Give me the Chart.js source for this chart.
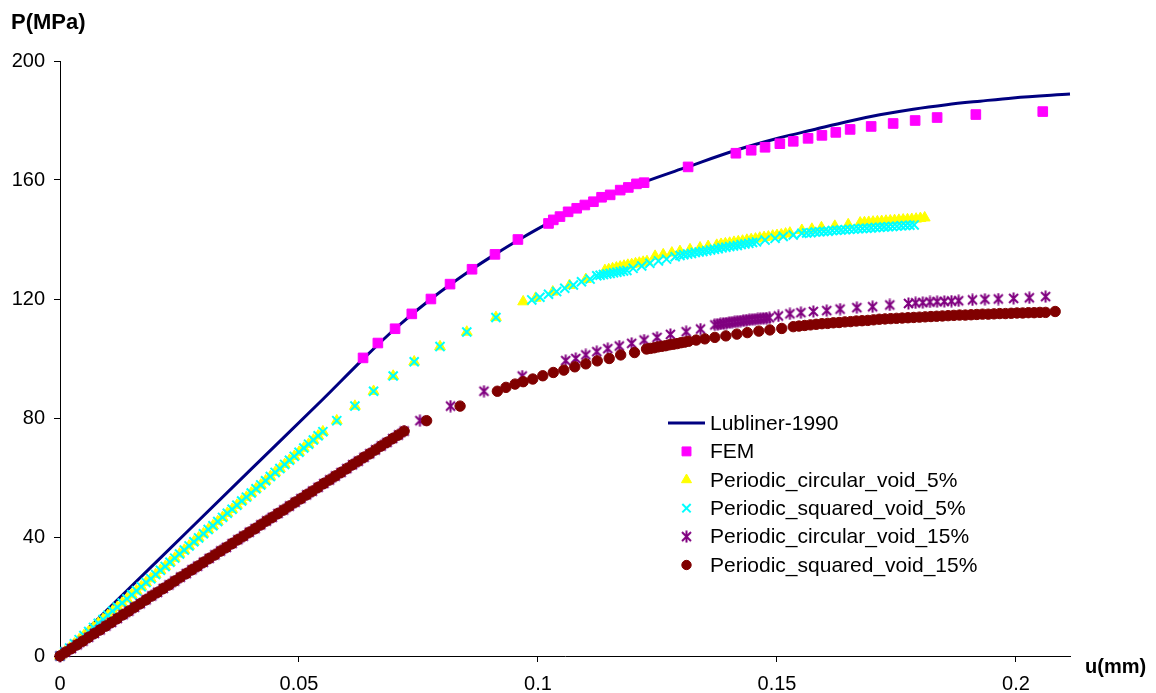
<!DOCTYPE html>
<html>
<head>
<meta charset="utf-8">
<script src="https://cdn.jsdelivr.net/npm/chart.js@4.4.1/dist/chart.umd.min.js"></script>
<style>
  body { margin: 0; background: #fff; }
  #chart { display: block; }
</style>
</head>
<body>
<canvas id="chart" width="1156" height="693"></canvas>
<script>
// ---------------- data ----------------
var seriesNames = ['Lubliner-1990', 'FEM', 'Periodic_circular_void_5%', 'Periodic_squared_void_5%',
                   'Periodic_circular_void_15%', 'Periodic_squared_void_15%'];
var xTicks = [0, 0.05, 0.1, 0.15, 0.2];
var yTicks = [0, 40, 80, 120, 160, 200];

// Lubliner-1990 (line)
var lubU = [0, 0.02, 0.04, 0.055, 0.0634, 0.0701, 0.0776, 0.0862, 0.091, 0.0961, 0.1021, 0.1122, 0.1227, 0.1311,
            0.1414, 0.1506, 0.1576, 0.1646, 0.1715, 0.1785, 0.1855, 0.1925, 0.1994, 0.2113];
var lubP = [0, 31.4, 62.8, 86.3, 99.8, 110, 120, 130, 135, 140, 145.4, 153, 159.6, 164.3,
            170, 174.2, 176.9, 179.6, 181.9, 183.8, 185.3, 186.5, 187.6, 188.9];

// FEM
var femU = [0.0634, 0.0665, 0.0701, 0.0736, 0.0776, 0.0816, 0.0862, 0.091, 0.0958,
            0.1022, 0.1032, 0.1046, 0.1063, 0.1081, 0.1098, 0.1116, 0.1133, 0.1151, 0.1172, 0.1189, 0.1206, 0.1222,
            0.1314, 0.1414, 0.1446, 0.1475, 0.1506, 0.1534, 0.1565, 0.1594, 0.1623, 0.1653, 0.1697, 0.1743,
            0.1789, 0.1835, 0.1916, 0.2056];
var femP = [100.2, 105.2, 110, 115, 120, 125, 130, 135, 140,
            145.4, 146.6, 147.7, 149.3, 150.5, 151.6, 152.7, 154.2, 155, 156.6, 157.5, 158.7, 159.1,
            164.4, 169, 170, 171, 172.2, 173, 174, 175, 176, 177, 178, 179,
            180, 181, 182, 183];

// 5% voids: common linear start (both markers sit on top of each other)
var lin5U = [0, 0.001, 0.002, 0.003, 0.004, 0.005, 0.006, 0.007, 0.008, 0.009, 0.010, 0.011, 0.012, 0.013,
             0.014, 0.015, 0.016, 0.017, 0.018, 0.019, 0.020, 0.021, 0.022, 0.023, 0.024, 0.025, 0.026, 0.027,
             0.028, 0.029, 0.030, 0.031, 0.032, 0.033, 0.034, 0.035, 0.036, 0.037, 0.038, 0.039, 0.040, 0.041,
             0.042, 0.043, 0.044, 0.045, 0.046, 0.047, 0.048, 0.049, 0.050, 0.051, 0.052, 0.053, 0.054, 0.055,
             0.0579, 0.0617, 0.0656, 0.0697, 0.0741, 0.0795, 0.0851, 0.0912];
var lin5P = [0, 1.4, 2.7, 4.1, 5.5, 6.9, 8.2, 9.6, 11, 12.3, 13.7, 15.1, 16.4, 17.8,
             19.2, 20.6, 21.9, 23.3, 24.7, 26, 27.4, 28.8, 30.1, 31.5, 32.9, 34.3, 35.6, 37,
             38.4, 39.7, 41.1, 42.5, 43.8, 45.2, 46.6, 48, 49.3, 50.7, 52.1, 53.4, 54.8, 56.2,
             57.5, 58.9, 60.3, 61.7, 63, 64.4, 65.8, 67.1, 68.5, 69.9, 71.2, 72.6, 74, 75.4,
             79.1, 84, 89, 94.1, 98.9, 104, 108.9, 113.8];

// Periodic_circular_void_5% (after the common start)
var circ5U = [0.0969, 0.0995, 0.1031, 0.1066, 0.11,
              0.114, 0.1148, 0.1156, 0.1164, 0.1172, 0.118, 0.1188, 0.1196, 0.1204, 0.1212, 0.122, 0.1228,
              0.1245, 0.1262, 0.128, 0.1297, 0.1318, 0.1339, 0.1356,
              0.1374, 0.1383, 0.1392, 0.1401, 0.141, 0.1419, 0.1428, 0.1437, 0.1446, 0.1455, 0.1464, 0.1473,
              0.1482, 0.1491, 0.15, 0.1509, 0.1518, 0.1527,
              0.1552, 0.1573, 0.1593, 0.1621, 0.1649,
              0.1674, 0.1683, 0.1692, 0.1701, 0.171, 0.1719, 0.1728, 0.1737, 0.1746, 0.1755, 0.1764, 0.1773,
              0.1782, 0.1791, 0.18, 0.1809];
var circ5P = [119.1, 120.3, 122.4, 124.6, 126.6,
              129.6, 129.9, 130.2, 130.5, 130.8, 131.1, 131.4, 131.6, 131.9, 132.1, 132.4, 132.6,
              134.4, 134.9, 135.5, 136, 136.6, 137.2, 137.7,
              138.1, 138.4, 138.6, 138.8, 139.1, 139.3, 139.5, 139.8, 140, 140.2, 140.5, 140.7,
              140.9, 141.2, 141.4, 141.6, 141.9, 142.2,
              143.1, 143.5, 144, 144.5, 145,
              145.6, 145.7, 145.8, 145.9, 146, 146.1, 146.2, 146.3, 146.4, 146.5, 146.6, 146.7,
              146.8, 146.9, 147.1, 147.3];

// Periodic_squared_void_5% (after the common start)
var sq5U = [0.0987, 0.1004, 0.1022, 0.1039, 0.1056, 0.1074, 0.1091, 0.1109,
            0.1123, 0.113, 0.1137, 0.1144, 0.1151, 0.1158, 0.1165, 0.1172, 0.1179, 0.1186,
            0.1199, 0.1217, 0.1234, 0.1252, 0.1269, 0.1287,
            0.1297, 0.1305, 0.1313, 0.1321, 0.1329, 0.1337, 0.1345, 0.1353, 0.1361, 0.1369, 0.1377, 0.1385,
            0.1393, 0.1401, 0.1409, 0.1417, 0.1425, 0.1433, 0.1441, 0.1449, 0.1457,
            0.1475, 0.1496, 0.1513, 0.1534, 0.1552,
            0.1562, 0.1571, 0.158, 0.1589, 0.1598, 0.1607, 0.1616, 0.1625, 0.1634, 0.1643, 0.1652, 0.1661,
            0.167, 0.1679, 0.1688, 0.1697, 0.1706, 0.1715, 0.1724, 0.1733, 0.1742, 0.1751, 0.176, 0.1769,
            0.1778, 0.1787];
var sq5P = [119.7, 120.6, 121.6, 122.5, 123.6, 124.7, 125.8, 126.7,
            127.8, 128, 128.2, 128.4, 128.6, 128.8, 129, 129.2, 129.4, 129.6,
            130.3, 131.1, 132, 132.8, 133.4, 134.2,
            134.6, 134.9, 135.1, 135.3, 135.6, 135.8, 136, 136.2, 136.5, 136.7, 136.9, 137.2,
            137.4, 137.6, 137.8, 138, 138.3, 138.5, 138.7, 139, 139.2,
            139.8, 140.4, 141, 141.5, 142.1,
            142.2, 142.3, 142.5, 142.6, 142.7, 142.8, 143, 143.1, 143.2, 143.3, 143.4, 143.5,
            143.6, 143.7, 143.8, 143.9, 144, 144.1, 144.2, 144.3, 144.4, 144.5, 144.6, 144.7,
            144.8, 144.9];

// 15% voids: common linear start
var lin15U = [0, 0.0012, 0.0024, 0.0036, 0.0048, 0.006, 0.0072, 0.0084, 0.0096, 0.0108, 0.012, 0.0132,
              0.0144, 0.0156, 0.0168, 0.018, 0.0192, 0.0204, 0.0216, 0.0228, 0.024, 0.0252, 0.0264, 0.0276,
              0.0288, 0.03, 0.0312, 0.0324, 0.0336, 0.0348, 0.036, 0.0372, 0.0384, 0.0396, 0.0408, 0.042,
              0.0432, 0.0444, 0.0456, 0.0468, 0.048, 0.0492, 0.0504, 0.0516, 0.0528, 0.054, 0.0552, 0.0564,
              0.0576, 0.0588, 0.06, 0.0612, 0.0624, 0.0636, 0.0648, 0.066, 0.0672, 0.0684, 0.0696, 0.0708, 0.072];
var lin15P = [0, 1.3, 2.5, 3.8, 5, 6.3, 7.6, 8.8, 10.1, 11.3, 12.6, 13.9,
              15.1, 16.4, 17.6, 18.9, 20.2, 21.4, 22.7, 23.9, 25.2, 26.5, 27.7, 29,
              30.2, 31.5, 32.8, 34, 35.3, 36.5, 37.8, 39.1, 40.3, 41.6, 42.8, 44.1,
              45.4, 46.6, 47.9, 49.1, 50.4, 51.7, 52.9, 54.2, 55.4, 56.7, 58, 59.2,
              60.5, 61.7, 63, 64.3, 65.5, 66.8, 68, 69.3, 70.6, 71.8, 73.1, 74.3, 75.6];

// Periodic_circular_void_15% (after the common start)
var circ15U = [0.0753, 0.0817, 0.0887, 0.0967, 0.1058, 0.1079, 0.11, 0.1123, 0.1146, 0.117, 0.1196, 0.1222,
               0.1249, 0.1277, 0.131, 0.134,
               0.137, 0.1376, 0.1382, 0.1388, 0.1394, 0.14, 0.1406, 0.1412, 0.1418, 0.1424, 0.143, 0.1436,
               0.1442, 0.1448, 0.1454, 0.146, 0.1466, 0.1472, 0.1478, 0.1484,
               0.1503, 0.1527, 0.155, 0.1576, 0.1604, 0.1632, 0.1667, 0.17, 0.1736,
               0.1775, 0.179, 0.1805, 0.182, 0.1835, 0.185, 0.1865, 0.188,
               0.1909, 0.1935, 0.1963, 0.1995, 0.2028, 0.2062];
var circ15P = [79.1, 84, 89, 94.1, 99.3, 100, 101.2, 102.3, 103.3, 104.2, 105.1, 106.2,
               107.1, 108.1, 109, 109.9,
               111.3, 111.5, 111.6, 111.8, 111.9, 112.1, 112.2, 112.3, 112.5, 112.6, 112.7, 112.9,
               113, 113.1, 113.2, 113.3, 113.4, 113.5, 113.6, 113.7,
               114.3, 115, 115.4, 115.8, 116.1, 116.6, 117.1, 117.4, 118,
               118.5, 118.7, 118.8, 119, 119.1, 119.2, 119.3, 119.4,
               119.7, 119.9, 120, 120.2, 120.4, 120.8];

// Periodic_squared_void_15% (after the common start)
var sq15U = [0.0767, 0.0837, 0.0915, 0.0933, 0.0952, 0.0969, 0.0989, 0.101, 0.1032, 0.1054, 0.1077, 0.11,
             0.1124, 0.1149, 0.1173, 0.1202,
             0.1227, 0.1235, 0.1243, 0.1251, 0.1259, 0.1267, 0.1275, 0.1283, 0.1291, 0.1299, 0.1307, 0.1315,
             0.1331, 0.1349, 0.137, 0.1393, 0.1416, 0.1438, 0.1462, 0.1485, 0.151,
             0.1534, 0.1546, 0.1558, 0.157, 0.1582, 0.1594, 0.1606, 0.1618, 0.163, 0.1642, 0.1654, 0.1666,
             0.1678, 0.169, 0.1702, 0.1714, 0.1726, 0.1738, 0.175, 0.1762, 0.1774, 0.1786, 0.1798, 0.181,
             0.1822, 0.1834, 0.1846, 0.1858, 0.187, 0.1882, 0.1894, 0.1906, 0.1918, 0.193, 0.1942, 0.1954,
             0.1966, 0.1978, 0.199, 0.2002, 0.2014, 0.2026, 0.2038, 0.205, 0.2062, 0.2082];
var sq15P = [79.1, 84, 89, 90.3, 91.4, 92.2, 93.1, 94.2, 95.3, 96.1, 97.2, 98.2,
             99.2, 100, 101.2, 102,
             103.2, 103.4, 103.6, 103.9, 104.1, 104.3, 104.6, 104.8, 105, 105.3, 105.5, 105.8,
             106.2, 106.6, 107.1, 107.6, 108.2, 108.7, 109.2, 109.6, 110.1,
             110.7, 110.9, 111.1, 111.3, 111.5, 111.7, 111.8, 112, 112.1, 112.3, 112.4, 112.6,
             112.7, 112.8, 113, 113.2, 113.3, 113.4, 113.5, 113.6, 113.7, 113.8, 113.9, 114,
             114.1, 114.2, 114.3, 114.4, 114.5, 114.6, 114.6, 114.7, 114.8, 114.9, 114.9, 115,
             115.1, 115.1, 115.2, 115.3, 115.3, 115.4, 115.4, 115.5, 115.5, 115.8];

// -----------------------------------------------------------
var FONT = '"Liberation Sans", Arial, Helvetica, sans-serif';

function pts(us, ps) {
    return us.map(function (u, i) { return { x: u, y: ps[i] }; });
}

// Excel style asterisk: an X with a vertical bar
function makeAsterisk(color) {
    var c = document.createElement('canvas');
    c.width = 13; c.height = 13;
    var g = c.getContext('2d');
    g.strokeStyle = color;
    g.lineWidth = 2;
    g.beginPath();
    g.moveTo(2, 2); g.lineTo(11, 11);
    g.moveTo(11, 2); g.lineTo(2, 11);
    g.moveTo(6.5, 0.5); g.lineTo(6.5, 12.5);
    g.stroke();
    return c;
}
var asterisk = makeAsterisk('#800080');

var datasets = [
    { label: seriesNames[0], data: pts(lubU, lubP), showLine: true, borderColor: '#000080', borderWidth: 3,
      pointRadius: 0, cubicInterpolationMode: 'monotone', order: 6 },
    { label: seriesNames[1], data: pts(femU, femP), pointStyle: 'rect', pointRadius: 6.8,
      backgroundColor: '#FF00FF', borderColor: '#FF00FF', borderWidth: 1, order: 5 },
    { label: seriesNames[2], data: pts(lin5U.concat(circ5U), lin5P.concat(circ5P)), pointStyle: 'triangle',
      pointRadius: 6.3, backgroundColor: '#FFFF00', borderColor: '#FFFF00', borderWidth: 1, order: 4 },
    { label: seriesNames[3], data: pts(lin5U.concat(sq5U), lin5P.concat(sq5P)), pointStyle: 'crossRot',
      pointRadius: 6.4, backgroundColor: '#00FFFF', borderColor: '#00FFFF', borderWidth: 2, order: 3 },
    { label: seriesNames[4], data: pts(lin15U.concat(circ15U), lin15P.concat(circ15P)), pointStyle: asterisk,
      pointRadius: 6, backgroundColor: '#800080', borderColor: '#800080', order: 2 },
    { label: seriesNames[5], data: pts(lin15U.concat(sq15U), lin15P.concat(sq15P)), pointStyle: 'circle',
      pointRadius: 5.2, backgroundColor: '#800000', borderColor: '#800000', borderWidth: 1, order: 1 }
];
datasets.forEach(function (d) { d.clip = false; d.pointHoverRadius = d.pointRadius; });

// legend + axis titles drawn inside the plot like the original
var decorPlugin = {
    id: 'decor',
    afterDraw: function (chart) {
        var ctx = chart.ctx;
        ctx.save();
        ctx.fillStyle = '#000';
        ctx.textBaseline = 'middle';
        ctx.textAlign = 'left';
        ctx.font = 'bold 22px ' + FONT;
        ctx.fillText('P(MPa)', 11, 23);
        ctx.font = 'bold 20px ' + FONT;
        ctx.fillText('u(mm)', 1085, 667);

        var x0 = 668, y0 = 423, step = 28.4;
        ctx.font = '21px ' + FONT;
        chart.data.datasets.forEach(function (ds, i) {
            var y = y0 + i * step;
            if (i === 0) {
                ctx.strokeStyle = ds.borderColor;
                ctx.lineWidth = 3;
                ctx.beginPath();
                ctx.moveTo(x0, y); ctx.lineTo(x0 + 37, y);
                ctx.stroke();
            } else {
                ctx.fillStyle = ds.backgroundColor;
                ctx.strokeStyle = ds.borderColor;
                ctx.lineWidth = ds.borderWidth || 1;
                Chart.helpers.drawPoint(ctx, { pointStyle: ds.pointStyle, radius: ds.pointRadius - 0.5,
                    rotation: 0, borderWidth: ds.borderWidth || 1 }, x0 + 18.5, y);
            }
            ctx.fillStyle = '#000';
            ctx.fillText(ds.label, 710, y + 1);
        });
        ctx.restore();
    }
};

var axisGrid = { display: true, drawOnChartArea: false, drawTicks: true, tickLength: 6, color: '#000', lineWidth: 1 };

new Chart(document.getElementById('chart'), {
    type: 'scatter',
    data: { datasets: datasets },
    options: {
        responsive: false,
        animation: false,
        devicePixelRatio: 1,
        layout: { padding: { top: 61, right: 86, left: 0, bottom: 0 } },
        plugins: { legend: { display: false }, tooltip: { enabled: false } },
        scales: {
            x: {
                type: 'linear', min: 0, max: 0.2113,
                grid: axisGrid,
                border: { display: true, color: '#000', width: 1 },
                ticks: { stepSize: 0.05, color: '#000', padding: 10, maxRotation: 0,
                         font: { family: FONT, size: 20 },
                         callback: function (v) { return String(Math.round(v * 100) / 100); } },
                afterBuildTicks: function (s) {
                    s.ticks = xTicks.map(function (v) { return { value: v }; });
                },
                afterFit: function (s) { s.height = 37; }
            },
            y: {
                type: 'linear', min: 0, max: 200,
                grid: axisGrid,
                border: { display: true, color: '#000', width: 1 },
                ticks: { stepSize: 40, color: '#000', padding: 9, font: { family: FONT, size: 20 } },
                afterBuildTicks: function (s) {
                    s.ticks = yTicks.map(function (v) { return { value: v }; });
                },
                afterFit: function (s) { s.width = 60; }
            }
        }
    },
    plugins: [decorPlugin]
});
</script>
</body>
</html>
